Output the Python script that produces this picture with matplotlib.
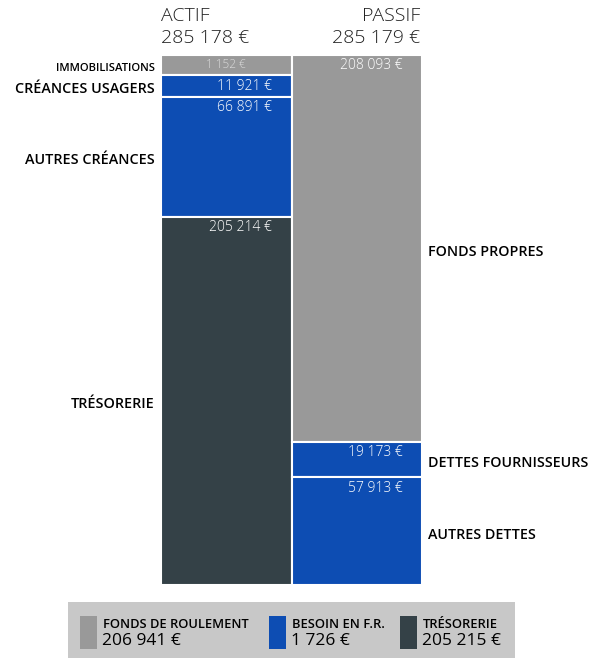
import numpy as np
import matplotlib
matplotlib.use("Agg")
import matplotlib.pyplot as plt
from matplotlib.patches import Rectangle

# data
actif_labels = ["IMMOBILISATIONS", "CRÉANCES USAGERS", "AUTRES CRÉANCES", "TRÉSORERIE"]
actif_values = [1152, 11921, 66891, 205214]
actif_total = 285178

passif_labels = ["FONDS PROPRES", "DETTES FOURNISSEURS", "AUTRES DETTES"]
passif_values = [208093, 19173, 57913]
passif_total = 285179

legend_labels = ["FONDS DE ROULEMENT", "BESOIN EN F.R.", "TRÉSORERIE"]
legend_values = [206941, 1726, 205215]

GRAY = "#999999"
BLUE = "#0d4db3"
DARK = "#344147"
actif_colors = [GRAY, BLUE, BLUE, DARK]
passif_colors = [GRAY, BLUE, BLUE]
legend_colors = [GRAY, BLUE, DARK]

FONT = ["Open Sans", "DejaVu Sans"]
W, H = 590, 659


def fmt(v):
    return "{:,}".format(v).replace(",", " ") + " €"


def display_heights(values, total, min_frac=0.038):
    # small segments get a minimum height, the rest is scaled down to keep the total
    vals = np.array(values, float)
    small = vals < min_frac * total
    out = vals.copy()
    out[small] = min_frac * total
    rest = total - out[small].sum()
    out[~small] = vals[~small] * rest / vals[~small].sum()
    return out


def px(x, y):
    return x / W, 1 - y / H


fig = plt.figure(figsize=(W / 100, H / 100), dpi=100)
ax = fig.add_axes([161 / W, 1 - 585 / H, (422 - 161) / W, (585 - 55) / H])
ax.set_xlim(-0.5, 1.5)
ax.set_ylim(passif_total, 0)
ax.axis("off")

cols = [(0, actif_values, actif_total, actif_colors, actif_labels),
        (1, passif_values, passif_total, passif_colors, passif_labels)]

for xi, vals, tot, colors, labels in cols:
    hts = display_heights(vals, tot)
    bottoms = np.concatenate([[0], np.cumsum(hts)[:-1]])
    ax.bar([xi] * len(vals), hts, bottom=bottoms, width=1.0, color=colors,
           edgecolor="white", linewidth=1.5)
    for i, (v, h, b) in enumerate(zip(vals, hts, bottoms)):
        small = v < 5000
        if small:
            ax.annotate(fmt(v), (xi, b), xytext=(0, -2),
                        textcoords="offset points", ha="center", va="top",
                        color="#dcdcdc", fontsize=8.5, family=FONT,
                        fontweight="light")
        else:
            ax.annotate(fmt(v), (xi + 0.35, b), xytext=(0, -2.5),
                        textcoords="offset points", ha="right", va="top",
                        color="white", fontsize=10, family=FONT,
                        fontweight="light")
        if xi == 0:
            ax.annotate(labels[i], (-0.5, b + h / 2), xytext=(-4.5, -2.5),
                        textcoords="offset points", ha="right", va="center",
                        fontsize=8.1 if small else 10.4, family=FONT,
                        fontweight="semibold", color="black")
        else:
            ax.annotate(labels[i], (1.5, b + h / 2), xytext=(4, -2.5),
                        textcoords="offset points", ha="left", va="center",
                        fontsize=10.3, family=FONT, fontweight="semibold",
                        color="black")

# headers
fig.text(*px(161, 16), "ACTIF", ha="left", va="center", fontsize=14,
         family=FONT, fontweight="light", color="#222222")
fig.text(*px(161, 38), fmt(actif_total), ha="left", va="center", fontsize=14,
         family=FONT, fontweight="light", color="#222222")
fig.text(*px(420, 16), "PASSIF", ha="right", va="center", fontsize=14,
         family=FONT, fontweight="light", color="#222222")
fig.text(*px(420, 38), fmt(passif_total), ha="right", va="center", fontsize=14,
         family=FONT, fontweight="light", color="#222222")

# legend box
fig.patches.append(Rectangle(px(68, 658), (515 - 68) / W, (658 - 602) / H,
                             transform=fig.transFigure, facecolor="#c8c8c8",
                             edgecolor="none"))
leg_x = [80, 269, 400]
for x0, lab, val, c in zip(leg_x, legend_labels, legend_values, legend_colors):
    fig.patches.append(Rectangle(px(x0, 649), 17 / W, 33 / H,
                                 transform=fig.transFigure, facecolor=c,
                                 edgecolor="none"))
    fig.text(*px(x0 + 23, 624), lab, ha="left", va="center", fontsize=9.3,
             family=FONT, fontweight="semibold", color="black")
    fig.text(*px(x0 + 22, 641), fmt(val), ha="left", va="center", fontsize=12.5,
             family=FONT, fontweight="medium", color="black")

fig.savefig("out.png", dpi=100)
